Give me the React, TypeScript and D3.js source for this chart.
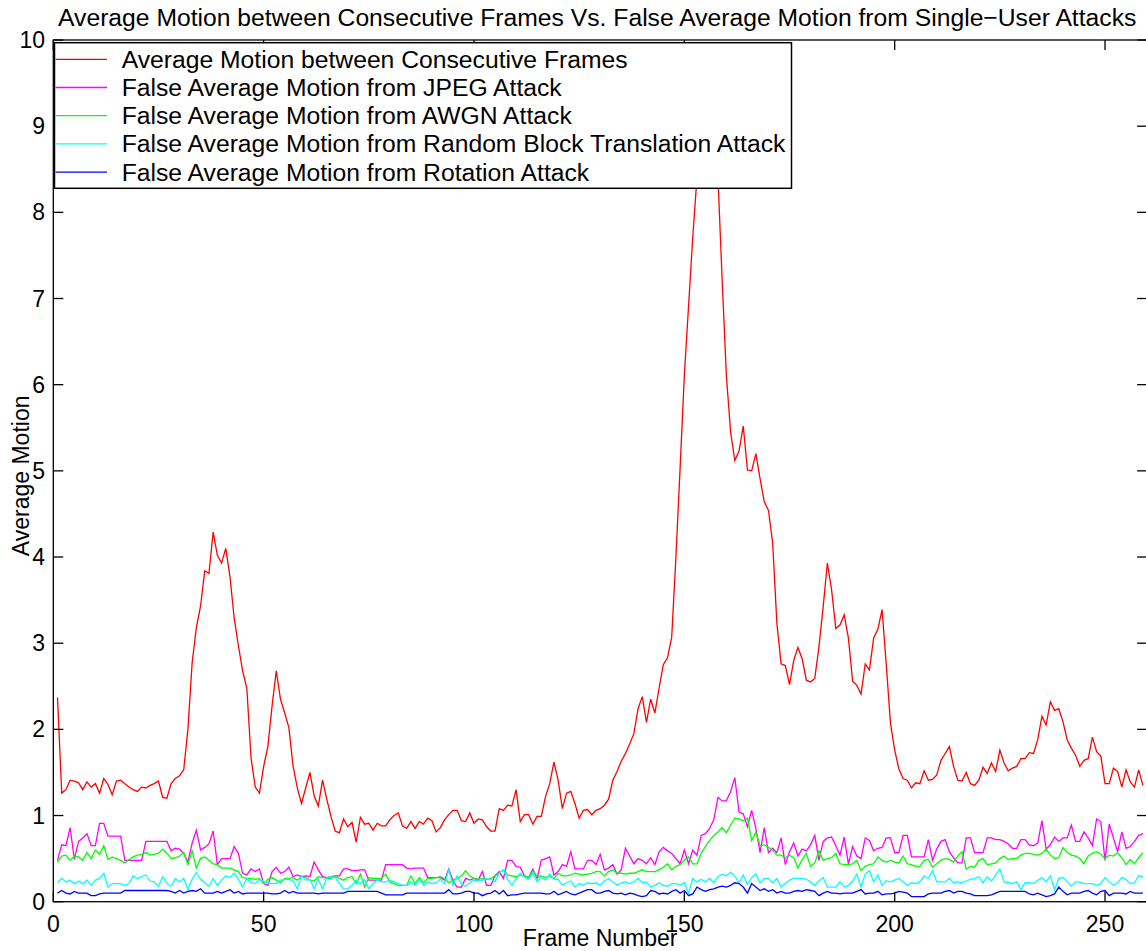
import React from "react";
import * as d3 from "d3";

const TITLE = "Average Motion between Consecutive Frames Vs. False Average Motion from Single\u2212User Attacks";
const X_LABEL = "Frame Number";
const Y_LABEL = "Average Motion";
const X_TICKS = [0, 50, 100, 150, 200, 250];
const Y_TICKS = [0, 1, 2, 3, 4, 5, 6, 7, 8, 9, 10];
const SERIES_NAMES = [
  "Average Motion between Consecutive Frames",
  "False Average Motion from JPEG Attack",
  "False Average Motion from AWGN Attack",
  "False Average Motion from Random Block Translation Attack",
  "False Average Motion from Rotation Attack",
];
const SERIES_COLORS = ["#ff0000", "#ff00ff", "#00ff00", "#00ffff", "#0000ff"];

const avgMotion = [
  2.37, 1.26, 1.30, 1.41, 1.40, 1.38, 1.30, 1.39, 1.33, 1.37,
  1.26, 1.43, 1.36, 1.24, 1.40, 1.41, 1.37, 1.33, 1.30, 1.28,
  1.33, 1.32, 1.35, 1.37, 1.40, 1.21, 1.20, 1.37, 1.43, 1.46,
  1.53, 2.00, 2.77, 3.18, 3.43, 3.84, 3.81, 4.29, 4.02, 3.93,
  4.10, 3.77, 3.29, 2.97, 2.68, 2.48, 1.67, 1.33, 1.26, 1.57,
  1.80, 2.27, 2.68, 2.35, 2.19, 2.02, 1.57, 1.32, 1.14, 1.32,
  1.50, 1.23, 1.11, 1.41, 1.19, 0.99, 0.82, 0.80, 0.96, 0.87,
  0.92, 0.69, 0.98, 0.90, 0.91, 0.83, 0.91, 0.88, 0.88, 0.95,
  1.00, 1.03, 0.88, 0.85, 0.93, 0.85, 0.93, 0.90, 0.97, 0.94,
  0.81, 0.86, 0.95, 1.01, 1.06, 1.06, 0.94, 0.93, 1.03, 0.91,
  0.96, 0.95, 0.87, 0.82, 0.82, 1.08, 1.06, 1.12, 1.11, 1.30,
  0.93, 1.01, 1.01, 0.90, 0.99, 0.99, 1.22, 1.37, 1.62, 1.41,
  1.08, 1.26, 1.28, 1.14, 0.97, 1.06, 1.07, 1.01, 1.06, 1.08,
  1.12, 1.19, 1.41, 1.51, 1.63, 1.72, 1.83, 1.95, 2.24, 2.38,
  2.08, 2.35, 2.19, 2.48, 2.75, 2.83, 3.07, 4.00, 5.04, 6.11,
  6.91, 7.71, 8.40, 9.00, 9.40, 9.30, 9.00, 8.40, 7.20, 6.10,
  5.45, 5.12, 5.23, 5.52, 5.01, 5.00, 5.20, 4.91, 4.64, 4.54,
  4.16, 3.23, 2.76, 2.74, 2.52, 2.80, 2.95, 2.82, 2.57, 2.55,
  2.59, 2.96, 3.42, 3.93, 3.62, 3.17, 3.21, 3.33, 3.06, 2.56,
  2.51, 2.41, 2.76, 2.69, 3.06, 3.16, 3.39, 2.75, 2.07, 1.76,
  1.54, 1.43, 1.41, 1.32, 1.38, 1.37, 1.52, 1.41, 1.42, 1.47,
  1.64, 1.72, 1.80, 1.57, 1.41, 1.40, 1.50, 1.37, 1.35, 1.41,
  1.56, 1.49, 1.61, 1.51, 1.76, 1.61, 1.52, 1.55, 1.57, 1.66,
  1.66, 1.73, 1.72, 1.88, 2.15, 2.05, 2.32, 2.22, 2.24, 2.09,
  1.88, 1.78, 1.70, 1.57, 1.64, 1.66, 1.91, 1.74, 1.69, 1.37,
  1.37, 1.55, 1.51, 1.33, 1.53, 1.39, 1.33, 1.53, 1.35,
];

const jpeg = [
  0.48, 0.66, 0.65, 0.86, 0.49, 0.70, 0.74, 0.79, 0.65, 0.65,
  0.91, 0.91, 0.76, 0.76, 0.76, 0.76, 0.48, 0.48, 0.48, 0.48,
  0.48, 0.70, 0.70, 0.70, 0.70, 0.70, 0.70, 0.59, 0.62, 0.61,
  0.56, 0.46, 0.68, 0.83, 0.60, 0.63, 0.67, 0.82, 0.43, 0.50,
  0.50, 0.50, 0.64, 0.56, 0.33, 0.31, 0.38, 0.35, 0.38, 0.21,
  0.19, 0.35, 0.40, 0.33, 0.35, 0.40, 0.29, 0.31, 0.29, 0.30,
  0.29, 0.46, 0.37, 0.29, 0.28, 0.29, 0.30, 0.30, 0.38, 0.38,
  0.36, 0.36, 0.37, 0.37, 0.25, 0.25, 0.25, 0.25, 0.43, 0.43,
  0.43, 0.43, 0.43, 0.39, 0.38,
  0.39, 0.39, 0.39, 0.28, 0.28, 0.28, 0.28, 0.25, 0.38, 0.24,
  0.17, 0.17, 0.27, 0.25, 0.27, 0.25, 0.35, 0.19, 0.19, 0.30,
  0.35, 0.27, 0.48, 0.48, 0.41, 0.40, 0.30, 0.28, 0.38, 0.27,
  0.48, 0.50, 0.52, 0.31, 0.35, 0.43, 0.41, 0.58, 0.38, 0.38,
  0.38, 0.48, 0.48, 0.43, 0.55, 0.37, 0.39, 0.43, 0.32, 0.37,
  0.62, 0.53, 0.44, 0.50, 0.48, 0.44, 0.51, 0.43, 0.58, 0.63,
  0.59, 0.56, 0.50, 0.44, 0.60, 0.44, 0.60, 0.54, 0.77, 0.79,
  0.85, 0.95, 1.21, 1.17, 1.17, 1.28, 1.44, 1.04, 1.02, 0.87,
  1.06, 0.85, 0.57, 0.86, 0.57, 0.62, 0.57,
  0.74, 0.43, 0.58, 0.68, 0.53, 0.61, 0.59, 0.66, 0.77, 0.48,
  0.70, 0.74, 0.75, 0.65, 0.54, 0.75, 0.44, 0.64, 0.53, 0.50,
  0.74, 0.71, 0.59, 0.62, 0.63, 0.74, 0.74, 0.57, 0.57, 0.77,
  0.77, 0.52, 0.52, 0.52, 0.52, 0.72, 0.48, 0.61, 0.70, 0.72,
  0.58, 0.51, 0.45, 0.45, 0.74, 0.74, 0.57, 0.57, 0.57, 0.74,
  0.74, 0.72, 0.72, 0.70, 0.67, 0.62, 0.62, 0.72, 0.72, 0.66,
  0.65, 0.68, 0.94, 0.61, 0.66, 0.75, 0.70, 0.74, 0.74, 0.89,
  0.70, 0.70, 0.81, 0.74, 0.65, 0.96, 0.93, 0.48, 0.90, 0.74,
  0.58, 0.81, 0.62, 0.64, 0.70, 0.77, 0.79,
];

const awgn = [
  0.46, 0.53, 0.54, 0.48, 0.53, 0.52, 0.48, 0.57, 0.50, 0.60,
  0.55, 0.65, 0.49, 0.52, 0.50, 0.48, 0.45, 0.49, 0.52, 0.54,
  0.55, 0.57, 0.54, 0.55, 0.56, 0.61, 0.56, 0.50, 0.51, 0.53,
  0.57, 0.43, 0.59, 0.39, 0.50, 0.52, 0.48, 0.44, 0.43, 0.39,
  0.39, 0.39, 0.37, 0.35, 0.28, 0.27, 0.27, 0.26, 0.27, 0.21,
  0.26, 0.28, 0.25, 0.22, 0.27, 0.27, 0.28, 0.25, 0.29, 0.28,
  0.25, 0.24, 0.29, 0.28, 0.27, 0.27, 0.29, 0.27, 0.25, 0.28,
  0.29, 0.21, 0.32, 0.17, 0.28, 0.27, 0.27, 0.27, 0.32, 0.23,
  0.21, 0.19, 0.19, 0.19, 0.30,
  0.21, 0.28, 0.22, 0.27, 0.27, 0.28, 0.29, 0.27, 0.22, 0.25,
  0.27, 0.30, 0.36, 0.30, 0.27, 0.26, 0.27, 0.26, 0.27, 0.30,
  0.33, 0.37, 0.31, 0.30, 0.29, 0.31, 0.30, 0.28, 0.36, 0.29,
  0.30, 0.28, 0.30, 0.27, 0.33, 0.30, 0.30, 0.31, 0.33, 0.32,
  0.31, 0.32, 0.33, 0.35, 0.35, 0.30, 0.35, 0.37, 0.33, 0.33,
  0.32, 0.33, 0.33, 0.35, 0.37, 0.35, 0.35, 0.35, 0.37, 0.40,
  0.44, 0.37, 0.41, 0.43, 0.48, 0.52, 0.44, 0.44, 0.56, 0.64,
  0.71, 0.77, 0.81, 0.86, 0.80, 0.89, 0.97, 0.96, 0.94, 0.97,
  0.71, 0.81, 0.65, 0.66, 0.63, 0.60, 0.54,
  0.54, 0.51, 0.54, 0.51, 0.39, 0.49, 0.56, 0.41, 0.45, 0.59,
  0.48, 0.50, 0.51, 0.56, 0.44, 0.43, 0.43, 0.44, 0.48, 0.36,
  0.41, 0.43, 0.44, 0.52, 0.48, 0.46, 0.48, 0.46, 0.45, 0.53,
  0.44, 0.43, 0.41, 0.41, 0.48, 0.49, 0.40, 0.44, 0.48, 0.50,
  0.49, 0.46, 0.53, 0.58, 0.38, 0.41, 0.40, 0.48, 0.50, 0.43,
  0.44, 0.45, 0.50, 0.53, 0.49, 0.50, 0.50, 0.54, 0.56, 0.56,
  0.55, 0.54, 0.56, 0.61, 0.54, 0.50, 0.51, 0.63, 0.57, 0.54,
  0.53, 0.50, 0.44, 0.53, 0.56, 0.58, 0.55, 0.50, 0.54, 0.53,
  0.57, 0.51, 0.43, 0.49, 0.44, 0.51, 0.57,
];

const blockTranslation = [
  0.22, 0.27, 0.23, 0.25, 0.21, 0.24, 0.21, 0.25, 0.19, 0.25,
  0.27, 0.33, 0.17, 0.21, 0.21, 0.21, 0.19, 0.21, 0.30, 0.27,
  0.29, 0.31, 0.24, 0.23, 0.18, 0.29, 0.21, 0.18, 0.27, 0.23,
  0.27, 0.14, 0.26, 0.34, 0.26, 0.22, 0.18, 0.27, 0.19, 0.25,
  0.30, 0.28, 0.33, 0.26, 0.17, 0.27, 0.22, 0.21, 0.26, 0.23,
  0.22, 0.21, 0.21, 0.25, 0.26, 0.26, 0.24, 0.15, 0.30, 0.25,
  0.26, 0.15, 0.26, 0.15, 0.28, 0.29, 0.28, 0.21, 0.15, 0.15,
  0.19, 0.25, 0.21, 0.26, 0.15, 0.21, 0.25, 0.23, 0.23, 0.25,
  0.23, 0.21, 0.19, 0.19, 0.23,
  0.19, 0.26, 0.19, 0.23, 0.21, 0.22, 0.26, 0.21, 0.37, 0.19,
  0.30, 0.21, 0.18, 0.22, 0.25, 0.24, 0.25, 0.27, 0.26, 0.23,
  0.33, 0.37, 0.26, 0.19, 0.27, 0.33, 0.28, 0.26, 0.33, 0.23,
  0.29, 0.25, 0.32, 0.26, 0.26, 0.19, 0.22, 0.24, 0.17, 0.21,
  0.19, 0.22, 0.21, 0.22, 0.19, 0.24, 0.27, 0.23, 0.19, 0.22,
  0.23, 0.21, 0.23, 0.27, 0.22, 0.23, 0.17, 0.19, 0.22, 0.19,
  0.18, 0.21, 0.21, 0.19, 0.22, 0.09, 0.27, 0.23, 0.26, 0.23,
  0.27, 0.22, 0.29, 0.32, 0.30, 0.34, 0.30, 0.22, 0.31, 0.20,
  0.28, 0.32, 0.22, 0.27, 0.27, 0.22, 0.27,
  0.17, 0.21, 0.25, 0.27, 0.27, 0.27, 0.26, 0.23, 0.19, 0.24,
  0.28, 0.17, 0.17, 0.17, 0.23, 0.17, 0.19, 0.24, 0.32, 0.17,
  0.32, 0.36, 0.23, 0.31, 0.19, 0.24, 0.23, 0.25, 0.27, 0.23,
  0.19, 0.22, 0.21, 0.23, 0.30, 0.27, 0.36, 0.23, 0.23, 0.23,
  0.27, 0.22, 0.23, 0.22, 0.24, 0.26, 0.27, 0.29, 0.22, 0.29,
  0.24, 0.31, 0.38, 0.23, 0.22, 0.21, 0.23, 0.14, 0.22, 0.22,
  0.21, 0.25, 0.28, 0.23, 0.30, 0.14, 0.27, 0.28, 0.23, 0.18,
  0.23, 0.23, 0.21, 0.21, 0.21, 0.19, 0.21, 0.28, 0.23, 0.19,
  0.22, 0.28, 0.26, 0.21, 0.22, 0.30, 0.29,
];

const rotation = [
  0.10, 0.13, 0.10, 0.09, 0.12, 0.10, 0.10, 0.10, 0.07, 0.07,
  0.09, 0.10, 0.10, 0.10, 0.10, 0.10, 0.13, 0.13, 0.13, 0.13,
  0.13, 0.13, 0.13, 0.13, 0.13, 0.13, 0.13, 0.12, 0.10, 0.13,
  0.10, 0.12, 0.13, 0.12, 0.15, 0.10, 0.10, 0.10, 0.12, 0.10,
  0.12, 0.14, 0.10, 0.12, 0.09, 0.10, 0.10, 0.10, 0.10, 0.10,
  0.10, 0.09, 0.09, 0.10, 0.13, 0.10, 0.12, 0.10, 0.10, 0.10,
  0.10, 0.10, 0.09, 0.10, 0.10, 0.10, 0.10, 0.10, 0.10, 0.12,
  0.12, 0.12, 0.12, 0.12, 0.12, 0.12, 0.12, 0.10, 0.08, 0.08,
  0.08, 0.08, 0.08, 0.10, 0.10,
  0.10, 0.10, 0.10, 0.10, 0.10, 0.10, 0.10, 0.10, 0.14, 0.09,
  0.09, 0.10, 0.12, 0.12, 0.10, 0.10, 0.07, 0.09, 0.10, 0.13,
  0.09, 0.13, 0.07, 0.08, 0.08, 0.09, 0.10, 0.10, 0.10, 0.10,
  0.10, 0.09, 0.09, 0.12, 0.08, 0.10, 0.12, 0.09, 0.08, 0.10,
  0.12, 0.14, 0.14, 0.10, 0.10, 0.12, 0.13, 0.10, 0.09, 0.10,
  0.08, 0.10, 0.09, 0.07, 0.06, 0.07, 0.13, 0.12, 0.09, 0.10,
  0.09, 0.12, 0.14, 0.10, 0.13, 0.07, 0.09, 0.17, 0.14, 0.12,
  0.14, 0.15, 0.17, 0.18, 0.17, 0.19, 0.22, 0.21, 0.17, 0.10,
  0.21, 0.17, 0.13, 0.15, 0.12, 0.14, 0.10,
  0.12, 0.10, 0.10, 0.12, 0.13, 0.12, 0.14, 0.13, 0.12, 0.07,
  0.10, 0.12, 0.10, 0.10, 0.09, 0.10, 0.10, 0.10, 0.12, 0.14,
  0.09, 0.10, 0.10, 0.12, 0.08, 0.09, 0.09, 0.10, 0.12, 0.11,
  0.10, 0.06, 0.06, 0.06, 0.06, 0.09, 0.10, 0.10, 0.10, 0.12,
  0.13, 0.10, 0.12, 0.12, 0.10, 0.09, 0.07, 0.07, 0.07, 0.07,
  0.08, 0.10, 0.12, 0.12, 0.12, 0.12, 0.12, 0.12, 0.12, 0.09,
  0.08, 0.10, 0.08, 0.06, 0.07, 0.09, 0.17, 0.12, 0.08, 0.10,
  0.10, 0.10, 0.12, 0.13, 0.10, 0.08, 0.12, 0.13, 0.07, 0.10,
  0.10, 0.10, 0.09, 0.12, 0.10, 0.10, 0.10,
];

const SERIES = [avgMotion, jpeg, awgn, blockTranslation, rotation];

const W = 1146;
const H = 951;
const FONT = "'Liberation Sans', Arial, Helvetica, sans-serif";

export default function App() {
  const x = d3.scaleLinear().domain([0, 260]).range([53.3, 1147.1]);
  const y = d3.scaleLinear().domain([0, 10]).range([901.7, 40]);
  const line = d3
    .line<number>()
    .x((_, i) => x(i + 1))
    .y((d) => y(d));

  const left = x(0);
  const right = x(260);
  const top = y(10);
  const bottom = y(0);
  const tickLen = 10;

  const legX = 54.5;
  const legY = 42.7;
  const legW = 737;
  const legH = 145.6;
  const rowH = 28.2;

  return (
    <div style={{ position: "absolute", left: 0, top: 0 }}>
      <svg width={W} height={H} style={{ display: "block", background: "#fff" }} fontFamily={FONT}>
        <rect x={0} y={0} width={W} height={H} fill="#fff" />
        <defs>
          <clipPath id="plotClip">
            <rect x={left} y={top} width={right - left} height={bottom - top} />
          </clipPath>
        </defs>
        <g clipPath="url(#plotClip)">
          {SERIES.map((s, k) => (
            <path key={k} d={line(s) || ""} fill="none" stroke={SERIES_COLORS[k]} strokeWidth={1.3} strokeLinejoin="miter" />
          ))}
        </g>
        {/* axes box */}
        <g stroke="#000" strokeWidth={1.3} fill="none">
          <rect x={left} y={top} width={right - left} height={bottom - top} />
          {X_TICKS.map((t) => (
            <g key={"xt" + t}>
              <line x1={x(t)} x2={x(t)} y1={bottom} y2={bottom - tickLen} />
              <line x1={x(t)} x2={x(t)} y1={top} y2={top + tickLen} />
            </g>
          ))}
          {Y_TICKS.map((t) => (
            <g key={"yt" + t}>
              <line x1={left} x2={left + tickLen} y1={y(t)} y2={y(t)} />
              <line x1={right} x2={right - tickLen} y1={y(t)} y2={y(t)} />
            </g>
          ))}
        </g>
        {/* tick labels */}
        <g fontSize={23} fill="#000">
          {X_TICKS.map((t) => (
            <text key={"xl" + t} x={x(t)} y={932} textAnchor="middle">
              {t}
            </text>
          ))}
          {Y_TICKS.map((t) => (
            <text key={"yl" + t} x={45} y={y(t) + 8} textAnchor="end">
              {t}
            </text>
          ))}
        </g>
        <text x={(left + right) / 2} y={946} fontSize={23} textAnchor="middle">
          {X_LABEL}
        </text>
        <text transform={`translate(29, ${(top + bottom) / 2 + 5}) rotate(-90)`} fontSize={23} textAnchor="middle">
          {Y_LABEL}
        </text>
        <text x={(left + right) / 2 - 3} y={26} fontSize={24.7} textAnchor="middle">
          {TITLE}
        </text>
        {/* legend */}
        <g>
          <rect x={legX} y={legY} width={legW} height={legH} fill="#fff" stroke="#000" strokeWidth={1.5} />
          {SERIES_NAMES.map((name, k) => {
            const cy = 59.3 + k * rowH;
            return (
              <g key={name}>
                <line x1={legX + 1} x2={107} y1={cy} y2={cy} stroke={SERIES_COLORS[k]} strokeWidth={1.3} />
                <text x={121.7} y={cy + 8.5} fontSize={24.7} fill="#000">
                  {name}
                </text>
              </g>
            );
          })}
        </g>
      </svg>
    </div>
  );
}
